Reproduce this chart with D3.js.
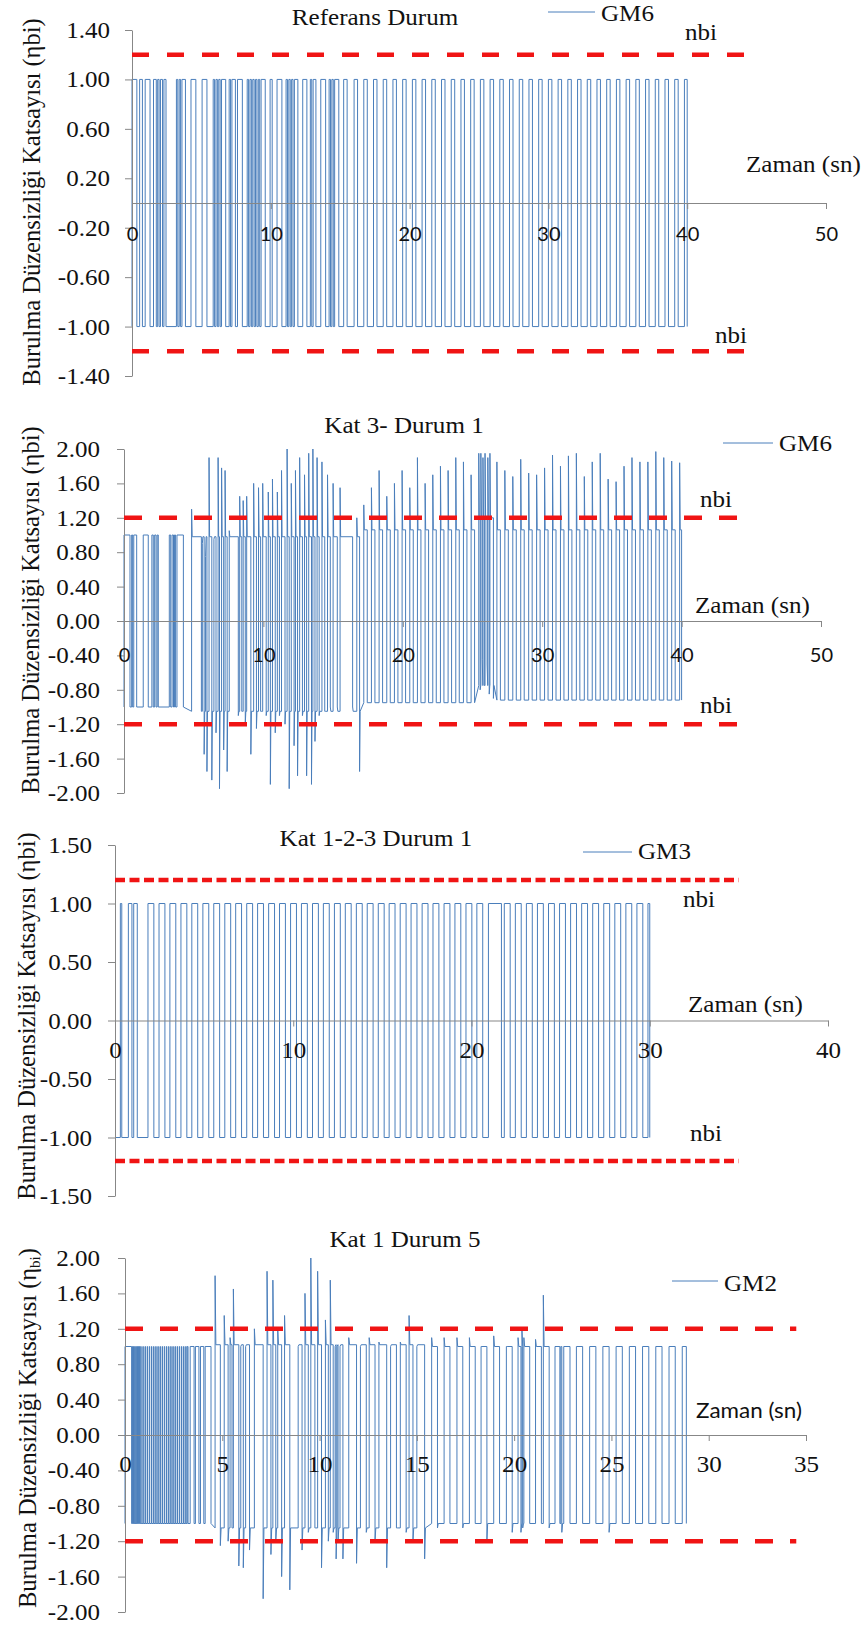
<!DOCTYPE html>
<html>
<head>
<meta charset="utf-8">
<script src="https://cdn.jsdelivr.net/npm/d3@7"></script>
<style>
  body { margin: 0; background: #fff; }
  svg { display: block; }
</style>
</head>
<body>
<svg id="chart" width="868" height="1628"></svg>
<script>
// ---- data ----
// pulses: [rise, fall, peak at rise, dip at fall] in seconds / coefficient
// levels: [from time, high plateau, low plateau]

const p1XTicks = [0, 10, 20, 30, 40, 50];
const p1YTicks = [-1.4, -1.0, -0.6, -0.2, 0.2, 0.6, 1.0, 1.4];
const p1Levels = [[0, 1, -1]];
const p1Pulses = [
  [0, 0.35], [0.55, 0.75], [0.95, 1.3], [1.55, 1.75], [1.85, 1.95], [2.05, 2.2], [2.3, 2.45],
  [3.2, 3.3], [3.4, 3.5], [3.6, 3.85], [4.25, 4.6], [5.05, 5.4],
  [5.85, 5.95], [6.05, 6.15], [6.25, 6.35], [6.45, 6.75], [7.0, 7.1], [7.2, 7.45], [7.6, 7.95],
  [8.3, 8.4], [8.5, 8.6], [8.7, 8.8], [8.9, 9.0], [9.1, 9.2], [9.3, 9.6], [9.95, 10.1], [10.45, 10.8],
  [11.1, 11.2], [11.3, 11.4], [11.5, 11.6], [11.7, 11.95], [12.3, 12.6], [12.85, 12.95], [13.05, 13.25],
  [13.6, 13.95], [14.2, 14.3], [14.4, 14.5], [14.6, 14.9], [15.25, 15.5],
  [16.0, 16.25], [16.7, 16.95], [17.4, 17.65], [18.1, 18.35], [18.8, 19.05], [19.5, 19.75], [20.2, 20.45],
  [20.9, 21.15], [21.6, 21.85], [22.3, 22.55], [23.0, 23.25], [23.7, 23.95], [24.4, 24.65], [25.1, 25.35],
  [25.8, 26.05], [26.5, 26.75], [27.2, 27.45], [27.9, 28.15], [28.6, 28.85], [29.3, 29.55], [30.0, 30.25],
  [30.7, 30.95], [31.4, 31.65], [32.1, 32.35], [32.8, 33.05], [33.5, 33.75], [34.2, 34.45], [34.9, 35.15],
  [35.6, 35.85], [36.3, 36.55], [37.0, 37.25], [37.7, 37.95], [38.4, 38.65], [39.1, 39.35], [39.8, 40.0]
];

const p2XTicks = [0, 10, 20, 30, 40, 50];
const p2YTicks = [-2.0, -1.6, -1.2, -0.8, -0.4, 0.0, 0.4, 0.8, 1.2, 1.6, 2.0];
const p2Levels = [[0, 1, -1], [4.3, 0.98, -1.05], [17.0, 1.06, -0.95], [25.4, 1.2, -0.75], [26.6, 1.06, -0.92]];
const p2Pulses = [
  [0.0, 0.43], [0.55, 0.62], [0.7, 0.91], [1.38, 1.74], [2.0, 2.1], [2.2, 2.3], [2.38, 2.46],
  [3.25, 3.35], [3.45, 3.55], [3.62, 3.7], [3.8, 4.26],
  [4.85, 5.55, 1.3, -1.05], [5.62, 5.75, 0.9, -1.55], [5.85, 5.95, 0.75, -1.75], [6.1, 6.3, 1.9, -1.85],
  [6.45, 6.6, 0.95, -1.3], [6.75, 6.85, 1.9, -1.95], [7.0, 7.15, 1.78, -1.5], [7.25, 7.4, 1.75, -1.75],
  [7.55, 8.2, 1.05, -1.1], [8.3, 8.45, 1.45, -1.05], [8.55, 8.7, 1.4, -1.2], [8.8, 9.1, 1.45, -1.55],
  [9.3, 9.5, 1.6, -1.25], [9.65, 9.8, 1.55, -1.05], [9.95, 10.2, 1.6, -1.1], [10.35, 10.5, 1.5, -1.9],
  [10.65, 10.85, 1.65, -1.3], [11.0, 11.15, 1.5, -1.1], [11.3, 11.55, 1.75, -1.2], [11.7, 11.85, 2.0, -1.95],
  [12.0, 12.2, 1.6, -1.45], [12.3, 12.45, 1.75, -1.8], [12.6, 12.8, 1.9, -1.1], [12.95, 13.1, 1.7, -1.8],
  [13.25, 13.45, 1.95, -1.9], [13.55, 13.7, 2.0, -1.4], [13.85, 14.0, 1.9, -1.1], [14.2, 14.4, 1.85, -1.05],
  [14.6, 14.8, 1.7, -1.0], [15.0, 15.3, 1.6, -1.0], [15.5, 16.4, 1.55, -1.0], [16.7, 16.9, 1.2, -1.75],
  [17.2, 17.45, 1.35], [17.75, 18.0, 1.55], [18.3, 18.55, 1.75], [18.85, 19.1, 1.45], [19.4, 19.65, 1.6],
  [19.95, 20.2, 1.75], [20.5, 20.75, 1.55], [21.05, 21.3, 1.9], [21.6, 21.85, 1.6], [22.15, 22.4, 1.7],
  [22.7, 22.95, 1.8], [23.25, 23.5, 1.75], [23.8, 24.05, 1.9], [24.35, 24.6, 1.85], [24.9, 25.15, 1.7],
  [25.45, 25.55, 1.95, -0.8], [25.6, 25.7, 1.95, -0.45], [25.75, 25.85, 1.9, -0.75], [25.9, 26.05, 1.95, -0.5],
  [26.1, 26.2, 1.9, -0.85], [26.25, 26.5, 1.95, -0.9],
  [26.75, 27.0, 1.85], [27.32, 27.57, 1.75], [27.89, 28.14, 1.68], [28.46, 28.71, 1.88], [29.03, 29.28, 1.72],
  [29.6, 29.85, 1.7], [30.17, 30.42, 1.78], [30.74, 30.99, 1.93], [31.31, 31.56, 1.8], [31.88, 32.13, 1.92],
  [32.45, 32.7, 1.95], [33.02, 33.27, 1.68], [33.59, 33.84, 1.85], [34.16, 34.41, 1.95], [34.73, 34.98, 1.65],
  [35.3, 35.55, 1.62], [35.87, 36.12, 1.8], [36.44, 36.69, 1.9], [37.01, 37.26, 1.85], [37.58, 37.83, 1.85],
  [38.15, 38.4, 1.97], [38.72, 38.97, 1.9], [39.29, 39.54, 1.86], [39.86, 40.0, 1.84]
];

const p3XTicks = [0, 10, 20, 30, 40];
const p3YTicks = [-1.5, -1.0, -0.5, 0.0, 0.5, 1.0, 1.5];
const p3Levels = [[0, 1, -1]];
const p3Pulses = [
  [0.3, 0.38], [0.75, 0.95], [1.05, 1.25],
  [1.85, 2.18], [2.47, 2.8], [3.08, 3.41], [3.7, 4.03], [4.31, 4.64], [4.93, 5.26], [5.54, 5.87],
  [6.16, 6.49], [6.77, 7.1], [7.39, 7.72], [8.0, 8.33], [8.62, 8.95], [9.23, 9.56], [9.85, 10.18],
  [10.46, 10.79], [11.08, 11.41], [11.69, 12.02], [12.31, 12.64], [12.92, 13.25], [13.54, 13.87],
  [14.15, 14.48], [14.77, 15.1], [15.38, 15.71], [16.0, 16.33], [16.61, 16.94], [17.23, 17.56],
  [17.84, 18.17], [18.46, 18.79], [19.07, 19.4], [19.69, 20.02], [20.3, 20.63],
  [20.95, 21.68],
  [21.84, 22.17], [22.46, 22.79], [23.08, 23.41], [23.7, 24.03], [24.32, 24.65], [24.94, 25.27],
  [25.56, 25.89], [26.18, 26.51], [26.8, 27.13], [27.42, 27.75], [28.04, 28.37], [28.66, 28.99],
  [29.28, 29.61], [29.9, 30.0]
];

const p4XTicks = [0, 5, 10, 15, 20, 25, 30, 35];
const p4YTicks = [-2.0, -1.6, -1.2, -0.8, -0.4, 0.0, 0.4, 0.8, 1.2, 1.6, 2.0];
const p4Levels = [[0, 1, -1], [4.5, 1.02, -1.05], [15.6, 1.0, -1.0]];
const p4Pulses = [
  [0, 0.34], [0.38, 0.4], [0.44, 0.46], [0.5, 0.52], [0.56, 0.58], [0.62, 0.64], [0.68, 0.7], [0.74, 0.76],
  [0.81, 0.83], [0.92, 0.94], [1.03, 1.05], [1.14, 1.16], [1.25, 1.27], [1.36, 1.38], [1.47, 1.49],
  [1.58, 1.6], [1.69, 1.71], [1.8, 1.82], [1.91, 1.93], [2.02, 2.04], [2.13, 2.15], [2.24, 2.26],
  [2.35, 2.37], [2.46, 2.48], [2.57, 2.59], [2.68, 2.7], [2.79, 2.81], [2.9, 2.92], [3.01, 3.03],
  [3.12, 3.14], [3.2, 3.24],
  [3.35, 3.55], [3.62, 3.8], [3.88, 4.05], [4.12, 4.42],
  [4.63, 4.9, 1.8, -1.25], [5.1, 5.3, 1.35, -1.2], [5.4, 5.5, 1.1, -1.05], [5.57, 5.85, 1.65, -1.48],
  [5.95, 6.08, 1.0, -1.5], [6.2, 6.4, 1.0, -1.3], [6.65, 7.1, 1.2, -1.85], [7.3, 7.5, 1.85, -1.35],
  [7.6, 7.75, 1.75, -1.2], [7.85, 8.05, 1.2, -1.6], [8.2, 8.47, 1.35, -1.75], [8.9, 9.1, 1.0, -1.3],
  [9.25, 9.42, 1.6, -1.1], [9.55, 9.76, 2.0, -1.05], [9.9, 10.1, 1.85, -1.5], [10.3, 10.45, 1.3, -1.2],
  [10.55, 10.7, 1.75, -1.1], [10.8, 10.85, 1.0, -1.4], [10.9, 10.95, 1.0, -1.2], [11.05, 11.2, 1.0, -1.4],
  [11.5, 11.9, 1.1, -1.45], [12.1, 12.4, 1.0, -1.1], [12.55, 12.85, 1.1, -1.2], [13.05, 13.45, 1.05, -1.5],
  [13.65, 13.95, 1.0, -1.05], [14.15, 14.45, 1.05, -1.1], [14.6, 14.8, 1.35, -1.2], [15.0, 15.4, 1.0, -1.4],
  [15.76, 16.06, 1.1, -1.05], [16.4, 16.7, 1.1], [17.06, 17.36, 1.1, -1.05], [17.7, 18.0, 1.1],
  [18.3, 18.6, 1.0, -1.2], [18.95, 19.25, 1.12], [19.6, 19.9, 1.0, -1.1], [20.2, 20.35, 1.1, -1.1],
  [20.4, 20.44, 1.2, -1.05], [20.5, 20.8, 1.1], [21.1, 21.4, 1.08], [21.5, 21.8, 1.58, -1.05],
  [22.1, 22.35], [22.4, 22.45, 1.0, -1.1],
  [22.55, 22.87], [23.2, 23.52], [23.88, 24.2], [24.56, 24.88, null, -1.1], [25.24, 25.56],
  [25.92, 26.24], [26.6, 26.92], [27.28, 27.6], [27.96, 28.28], [28.64, 28.85]
];

const limitValues = [1.2, -1.2];

// ---- styles ----
const serif = "'Liberation Serif', 'Times New Roman', Times, serif";
const sans = "Lato, 'Open Sans', sans-serif";
const blue = '#4a7ebb';
const red = '#f01414';
const axisColor = '#878787';
const ink = '#111';
const SX = 1.09; // the source picture is stretched a little horizontally

const fmt = d3.formatLocale({ decimal: '.', thousands: ',', grouping: [3], currency: ['', ''], minus: '-' }).format('.2f');

const svg = d3.select('#chart').style('background', '#fff');

function label(g, x, y, str, font, size, anchor, sx) {
  return g
    .append('text')
    .attr('transform', `translate(${x},${y}) scale(${sx || SX},1)`)
    .style('font-family', font)
    .style('font-size', size + 'px')
    .attr('text-anchor', anchor || 'start')
    .attr('fill', ink)
    .text(str);
}

// Turns the pulse table into polyline points
function pulsePoints(pulses, levels) {
  const levelAt = t => levels.filter(l => l[0] <= t + 1e-9).pop();
  const pts = [];
  pulses.forEach(([r, f, pk, dp], i) => {
    const [, hi, lo] = levelAt(r);
    if (i === 0) pts.push([0, lo]);
    pts.push([r, lo]);
    if (pk != null) pts.push([r, pk], [r + 0.04, hi]);
    else pts.push([r, hi]);
    const [, , lo2] = levelAt(f);
    pts.push([f, hi]);
    if (dp != null) pts.push([f, dp], [f + 0.04, lo2]);
    else pts.push([f, lo2]);
  });
  return pts;
}

function drawPanel(p) {
  const g = svg.append('g').attr('class', 'panel');
  const xMax = p.xTicks[p.xTicks.length - 1];
  const x = d3.scaleLinear().domain([0, xMax]).range([p.left, p.right]);
  const y = d3.scaleLinear().domain([p.yTicks[0], p.yTicks[p.yTicks.length - 1]]).range([p.bottom, p.top]);

  // signal
  const line = d3.line().x(d => x(d[0])).y(d => y(d[1]));
  g.append('path')
    .datum(pulsePoints(p.pulses, p.levels))
    .attr('fill', 'none')
    .attr('stroke', blue)
    .attr('stroke-width', 1)
    .attr('d', line);

  // y axis
  const yAxis = g
    .append('g')
    .attr('transform', `translate(${p.left},0)`)
    .call(d3.axisLeft(y).tickValues(p.yTicks).tickFormat(fmt).tickSize(7).tickSizeOuter(0));
  yAxis.attr('color', axisColor).attr('font-family', null).attr('font-size', null);
  yAxis
    .selectAll('text')
    .attr('x', null)
    .attr('dy', null)
    .attr('transform', `translate(${-p.yLabelGap},7.5) scale(${SX},1)`)
    .style('font-family', serif)
    .style('font-size', '23px')
    .attr('fill', ink);

  // x axis through zero
  const xAxis = g
    .append('g')
    .attr('transform', `translate(0,${y(0)})`)
    .call(d3.axisBottom(x).tickValues(p.xTicks).tickSize(6).tickSizeOuter(0));
  xAxis.attr('color', axisColor).attr('font-family', null).attr('font-size', null);
  xAxis
    .selectAll('text')
    .attr('y', null)
    .attr('dy', null)
    .attr('transform', `translate(0,${p.xLabelDy}) scale(${p.xTickSans ? 1.03 : SX},1)`)
    .style('font-family', p.xTickSans ? sans : serif)
    .style('font-size', p.xTickSans ? '19.5px' : '23px')
    .attr('fill', ink);

  // nbi limits
  g.selectAll('line.limit')
    .data(limitValues)
    .join('line')
    .attr('class', 'limit')
    .attr('x1', x(0))
    .attr('x2', x(p.limitEnd))
    .attr('y1', d => y(d))
    .attr('y2', d => y(d))
    .attr('stroke', red)
    .attr('stroke-width', 4.5)
    .attr('stroke-dasharray', p.dash);

  // title, legend, labels
  label(g, p.title[1], p.title[2], p.title[0], serif, 23, 'middle');
  g.append('line')
    .attr('x1', p.legend[1])
    .attr('x2', p.legend[2])
    .attr('y1', p.legend[3])
    .attr('y2', p.legend[3])
    .attr('stroke', blue)
    .attr('stroke-width', 1);
  label(g, p.legend[2] + 6, p.legend[4], p.legend[0], serif, 23);
  p.nbi.forEach(n => label(g, n[0], n[1], 'nbi', serif, 23));
  if (p.zamanSans) label(g, p.zaman[0], p.zaman[1], 'Zaman (sn)', sans, 21, 'start', 1.07);
  else label(g, p.zaman[0], p.zaman[1], 'Zaman (sn)', serif, 23);

  // rotated y title
  const yt = g
    .append('text')
    .attr('transform', `translate(${p.yTitle[0]},${p.yTitle[1]}) rotate(-90)`)
    .style('font-family', serif)
    .style('font-size', '24.5px')
    .attr('text-anchor', 'middle')
    .attr('fill', ink);
  if (p.subscript) {
    yt.append('tspan').text('Burulma Düzensizliği Katsayısı (η');
    yt.append('tspan').style('font-size', '15px').attr('dy', 4).text('bi');
    yt.append('tspan').attr('dy', -4).text(')');
  } else {
    yt.text('Burulma Düzensizliği Katsayısı (ηbi)');
  }
}

const panels = [
  {
    xTicks: p1XTicks, yTicks: p1YTicks, pulses: p1Pulses, levels: p1Levels,
    left: 132, right: 826, top: 30, bottom: 376,
    yLabelGap: 22, xLabelDy: 38, xTickSans: true, limitEnd: 45, dash: '17,18',
    title: ['Referans Durum', 375, 25], legend: ['GM6', 548, 595, 12, 21],
    nbi: [[685, 40], [715, 343]], zaman: [746, 172], yTitle: [40, 202]
  },
  {
    xTicks: p2XTicks, yTicks: p2YTicks, pulses: p2Pulses, levels: p2Levels,
    left: 124, right: 821, top: 449, bottom: 793,
    yLabelGap: 24, xLabelDy: 41, xTickSans: true, limitEnd: 45, dash: '18,17',
    title: ['Kat 3- Durum 1', 404, 433], legend: ['GM6', 723, 773, 443, 451],
    nbi: [[700, 507], [700, 713]], zaman: [695, 613], yTitle: [39, 610]
  },
  {
    xTicks: p3XTicks, yTicks: p3YTicks, pulses: p3Pulses, levels: p3Levels,
    left: 115, right: 828, top: 845, bottom: 1196,
    yLabelGap: 23, xLabelDy: 37, xTickSans: false, limitEnd: 35, dash: '10,4.5',
    title: ['Kat 1-2-3 Durum 1', 376, 846], legend: ['GM3', 583, 632, 852, 859],
    nbi: [[683, 907], [690, 1141]], zaman: [688, 1012], yTitle: [35, 1016]
  },
  {
    xTicks: p4XTicks, yTicks: p4YTicks, pulses: p4Pulses, levels: p4Levels,
    left: 125, right: 806, top: 1258, bottom: 1612,
    yLabelGap: 25, xLabelDy: 37, xTickSans: false, limitEnd: 34.5, dash: '18,17',
    title: ['Kat 1 Durum 5', 405, 1247], legend: ['GM2', 672, 718, 1281, 1291],
    nbi: [], zaman: [696, 1418], zamanSans: true, yTitle: [36, 1428], subscript: true
  }
];

panels.forEach(drawPanel);
</script>
</body>
</html>
